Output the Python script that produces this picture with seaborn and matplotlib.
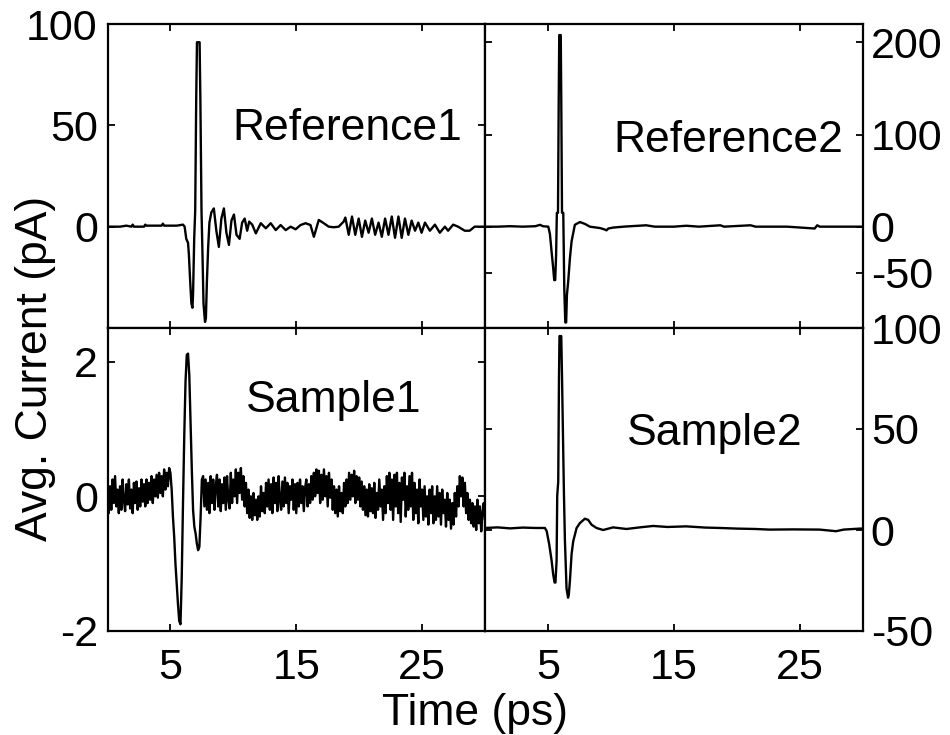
import numpy as np
import pandas as pd
import matplotlib
matplotlib.use("Agg")
import matplotlib.pyplot as plt
import seaborn as sns

# ---------------- data ----------------
# Reference1 (top-left), time in ps, current in pA
ref1_t = [0.0, 0.5, 1.0, 1.5, 1.9, 2.0, 2.1, 2.9, 3.0, 3.1, 4.3, 4.4, 4.5, 5.5, 6.0, 6.13,
          6.26, 6.4, 6.47, 6.57, 6.67, 6.75, 6.8, 6.89, 6.97, 7.05, 7.11, 7.32, 7.38, 7.47,
          7.55, 7.63, 7.75, 7.82, 7.9, 8.0, 8.1,
          8.25, 8.45, 8.65, 8.85, 9.05, 9.25, 9.45, 9.65, 9.85, 10.05, 10.25, 10.5, 10.7,
          10.9, 11.1, 11.26, 11.5, 11.79, 12.18, 12.58, 12.97, 13.37, 13.76, 14.16, 14.55,
          14.95, 15.34, 15.74, 16.13, 16.4, 16.79, 17.19, 17.58, 17.98, 18.37, 18.77, 18.9,
          19.17, 19.43, 19.69, 19.96, 20.22, 20.48, 20.75, 21.01, 21.27, 21.54, 21.8, 22.06,
          22.33, 22.59, 22.85, 23.12, 23.38, 23.64, 23.91, 24.17, 24.44, 24.7, 24.96, 25.23,
          25.62, 26.02, 26.41, 26.81, 27.07, 27.47, 27.86, 28.39, 28.78, 29.18, 29.7, 30.0]
ref1_v = [0, 0, 0, 0.5, 0, 1, 0, 0, 1, 0.5, 0.5, 1.5, 0.5, 0.5, 1, 0,
          -6, -8, -14, -27, -38, -40, -33, -6, 8, 63, 91, 91, 63, 8,
          -14, -38, -47, -45, -27, -10, 2,
          7, 9, -2, -10, 4, 9, -3, -9, 3, 6, -4, -6, 2,
          4, -2, 2.5, 1, -3.3, 1.7, -0.8, 1.7, -1.7, 0.8, -1.7, 0,
          -1.3, 0.8, 1.7, 0.8, -5, 3.3, 1.7, 0, -0.3, 0, 2.5, 4.5,
          -4, 5, -4, 4, -5, 3, -3, 4, -4, 2, -5, 4,
          -4, 5, -5.5, 5, -5.5, 4, -4, 3, -2, 2, -3, 2,
          -2, 1, -3, 0, -2, 1, 0, -2, -2, 0, 0, 0]

# Reference2 (top-right)
ref2_t = [0.0, 1.0, 2.0, 3.0, 4.0, 4.37, 4.6, 5.03, 5.16, 5.29, 5.42, 5.5, 5.58, 5.65,
          5.71, 5.8, 5.86, 5.9, 6.02, 6.06, 6.12, 6.22, 6.3, 6.38, 6.45, 6.51, 6.61, 6.75,
          6.88, 7.14, 7.54, 7.94, 8.33, 9.13, 9.5, 9.66, 9.8, 10.18, 11.0, 12.8, 13.5, 15.0,
          16.0, 17.0, 18.7, 19.0, 21.1, 21.5, 24.0, 26.2, 26.4, 26.6, 28.0, 30.0]
ref2_v = [0, 0, 0.5, 0, 0.5, 2, 0.5, 0, -8, -27, -45, -58, -58, -31,
          15, 15, 140, 208, 208, 140, 15, 15, -67, -104, -104, -74, -60, -34,
          -16, 2, 5, 3, 0, -1.5, -3, -4, -2, -1, 0, 1.5, 0, 0,
          1, 0, 1.5, 0, 1.5, 0, 0, -2, 1.5, 0, 0, 0]

# Sample1 (bottom-left): sampled every 0.1 ps from 0 to 30 ps
samp1_v = [
    0.2, -0.25, 0.15, -0.2, 0.25, -0.1, 0.3, -0.15, 0.1, -0.25,
    0.15, -0.2, 0.25, -0.05, -0.22, 0.18, -0.12, 0.25, -0.18, 0.1,
    -0.25, 0.2, -0.1, 0.22, -0.2, 0.12, -0.15, 0.25, -0.08, 0.18,
    -0.15, 0.25, -0.1, 0.2, -0.05, 0.3, -0.1, 0.25, 0.0, 0.32,
    -0.02, 0.35, 0.05, 0.3, 0.0, 0.4, 0.1, 0.35, 0.15, 0.42,
    0.35, 0.1, -0.3, -0.6, -1.0, -1.3, -1.6, -1.85, -1.9, -1.2,
    -0.1, 0.9, 1.7, 2.1, 2.12, 1.8, 1.1, 0.4, -0.2, -0.45,
    -0.55, -0.7, -0.8, -0.75, -0.3, 0.25, 0.3, -0.15, 0.25, -0.2,
    0.2, -0.25, 0.3, -0.1, 0.25, -0.2, 0.15, 0.32, -0.15, 0.25,
    -0.22, 0.18, -0.1, 0.28, -0.2, 0.3, -0.05, -0.18, 0.35, -0.1,
    0.25, 0.0, 0.4, -0.1, 0.35, 0.05, 0.42, -0.05, 0.3, -0.15,
    0.2, -0.25, 0.1, -0.32, 0.0, -0.35, 0.05, -0.28, -0.05, -0.35,
    0.0, -0.3, 0.15, -0.22, 0.05, -0.25, 0.2, -0.15, 0.25, -0.2,
    0.18, -0.25, 0.28, -0.1, 0.2, -0.22, 0.3, -0.05, -0.2, 0.22,
    -0.15, 0.28, -0.1, 0.2, -0.25, 0.15, -0.05, 0.25, -0.2, 0.18,
    -0.25, 0.2, -0.15, 0.25, -0.1, 0.15, -0.22, 0.12, 0.25, -0.15,
    0.18, -0.1, 0.3, -0.05, 0.35, 0.0, 0.4, 0.05, 0.38, -0.1,
    0.32, -0.05, 0.4, 0.0, 0.3, -0.15, 0.35, -0.02, 0.25, -0.2,
    0.15, -0.25, 0.1, -0.3, 0.15, -0.22, 0.05, -0.25, 0.2, -0.15,
    0.25, -0.1, 0.35, -0.05, 0.32, 0.0, 0.38, -0.1, 0.3, -0.05,
    0.28, -0.15, 0.22, -0.2, 0.15, -0.28, 0.1, -0.3, 0.18, -0.22,
    0.12, -0.25, 0.2, -0.32, 0.05, -0.2, 0.25, -0.15, 0.1, -0.35,
    0.15, -0.25, 0.3, -0.1, 0.35, -0.2, 0.25, -0.35, 0.32, -0.15,
    0.35, -0.25, 0.2, -0.38, 0.28, -0.05, 0.35, -0.3, 0.15, -0.2,
    0.3, -0.15, 0.35, -0.35, 0.2, -0.25, 0.1, -0.4, 0.25, -0.15,
    0.1, -0.35, 0.15, -0.3, 0.0, -0.42, 0.1, -0.25, 0.15, -0.4,
    0.0, -0.35, 0.15, -0.3, 0.05, -0.42, 0.1, -0.25, -0.05, -0.45,
    0.05, -0.35, -0.05, -0.48, -0.1, -0.42, 0.05, -0.3, 0.15, -0.15,
    0.3, 0.0, 0.28, -0.15, 0.2, -0.25, 0.05, -0.35, -0.05, -0.4,
    -0.1, -0.45, -0.15, -0.5, -0.05, -0.4, -0.15, -0.52, -0.25, -0.1,
    -0.35]
samp1_t = np.linspace(0.0, 30.0, len(samp1_v))

# Sample2 (bottom-right)
samp2_t = [0.0, 1.0, 2.0, 3.0, 4.0, 4.76, 4.9, 5.1, 5.29, 5.42, 5.53, 5.6, 5.69, 5.74,
           5.82, 5.88, 5.92, 6.06, 6.12, 6.27, 6.35, 6.48, 6.6, 6.66, 6.75, 6.88, 7.01,
           7.28, 7.54, 7.94, 8.2, 8.47, 8.86, 9.39, 10.18, 11.24, 12.3, 13.36, 14.5, 16.0,
           17.5, 18.7, 20.0, 21.5, 22.6, 24.5, 26.6, 27.9, 28.5, 29.8, 30.0]
samp2_v = [1, 1.3, 0.8, 1.2, 1, 1, -0.5, -7, -15, -22, -26, -26, -15, 17,
           24, 76, 96, 96, 76, 19, -5, -29, -33.5, -32, -25, -12, -5.6,
           1, 3.4, 5.6, 5, 2.6, 1, 0, 1.3, 0.5, 1.3, 2, 1.5, 1.8,
           1.2, 1, 0.7, 0.5, 0.2, 0.3, 0.2, -0.6, 0.2, 0.7, 0.7]

panel_names = ["Reference1", "Reference2", "Sample1", "Sample2"]
ylims = [(-50, 100), (-110, 220), (-2, 2.5), (-50, 100)]
yticks = [[0, 50, 100], [-50, 0, 100, 200], [-2, 0, 2], [-50, 0, 50, 100]]
xticks = [5, 15, 25]

# ---------------- style ----------------
sns.set_style("ticks")
plt.rcParams["font.family"] = ["Liberation Sans", "DejaVu Sans"]
plt.rcParams["axes.unicode_minus"] = False
FS = 31

fig = plt.figure(figsize=(9.5, 7.35), dpi=100)
L, W = 107.5 / 950, 377.5 / 950
R = 485 / 950
TB, TH = 1 - 328 / 735, 304 / 735
BB, BH = 1 - 631 / 735, 303 / 735
rects = [(L, TB, W, TH), (R, TB, W, TH), (L, BB, W, BH), (R, BB, W, BH)]
series = [(ref1_t, ref1_v), (ref2_t, ref2_v), (samp1_t, samp1_v), (samp2_t, samp2_v)]
text_pos = [(0.636, 0.618), (0.644, 0.579), (0.600, 0.723), (0.608, 0.614)]

for i, (rect, (tt, vv)) in enumerate(zip(rects, series)):
    ax = fig.add_axes(rect)
    df = pd.DataFrame({"t": tt, "v": vv})
    sns.lineplot(data=df, x="t", y="v", ax=ax, color="black", linewidth=1.7,
                 estimator=None, sort=False)
    ax.set_xlim(0, 30)
    ax.set_ylim(*ylims[i])
    ax.set_xticks(xticks)
    ax.set_yticks(yticks[i])
    ax.set_xlabel("")
    ax.set_ylabel("")
    for s in ax.spines.values():
        s.set_visible(True)
        s.set_linewidth(1.6)
        s.set_color("black")
    right = i in (1, 3)
    top = i in (0, 1)
    ax.tick_params(axis="both", direction="in", length=5, width=1.3, colors="black",
                   top=True, bottom=True, left=True, right=True, labelsize=FS)
    ax.tick_params(axis="x", pad=12, labelbottom=not top)
    if right:
        ax.tick_params(axis="y", labelleft=False, labelright=True, pad=6)
    else:
        ax.tick_params(axis="y", pad=7)
    ax.text(text_pos[i][0], text_pos[i][1], panel_names[i], transform=ax.transAxes,
            ha="center", va="baseline", fontsize=FS + 1, color="black")

fig.text(35.5 / 950, 1 - 368 / 735, "Avg. Current (pA)", rotation=90,
         ha="center", va="center", fontsize=FS + 1, color="black")
fig.text(0.5, 1 - 725 / 735, "Time (ps)", ha="center", va="baseline",
         fontsize=FS + 1, color="black")

fig.savefig("out.png", dpi=100)
